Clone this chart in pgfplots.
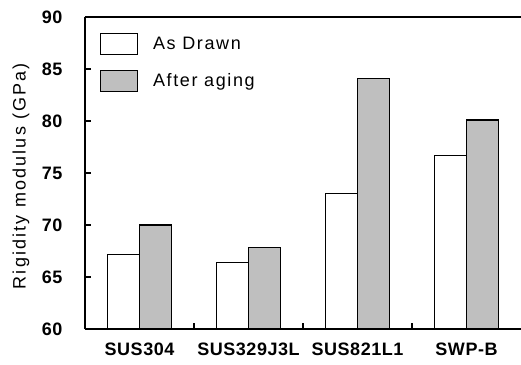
\documentclass[border=0pt]{standalone}
\usepackage{fontspec}
\setmainfont{Liberation Sans}
\newfontfamily\wideR{Liberation Sans}[LetterSpace=9]
\newfontfamily\wideL{Liberation Sans}[LetterSpace=12]
\newfontfamily\wideB{Liberation Sans}[LetterSpace=3]
\usepackage{pgfplots}
\pgfplotsset{compat=1.18}
\definecolor{barg}{RGB}{191,191,191}
\begin{document}
\begin{tikzpicture}
\begin{axis}[
  name=ax, scale only axis, width=436pt, height=312pt,
  xmin=-0.5, xmax=3.5, ymin=60, ymax=90,
  ytick={60,65,...,90},
  axis x line=box, axis y line=left,
  axis line style={-, line width=1.1pt, black},
  tick align=inside, major tick length=6pt,
  tick style={line width=1.1pt, black},
  xtick={0.5,1.5,2.5}, xticklabels={},
  xtick pos=bottom,
  extra x ticks={0,1,2,3},
  extra x tick labels={SUS304,SUS329J3L,SUS821L1,SWP-B},
  extra x tick style={major tick length=0pt},
  xticklabel style={font=\wideB\bfseries\fontsize{18}{21}\selectfont, yshift=-10pt},
  yticklabel style={font=\wideB\bfseries\fontsize{18}{21}\selectfont, xshift=-19pt},
  /pgf/number format/assume math mode=true,
  ylabel={Rigidity modulus (GPa)},
  ylabel style={at={(axis description cs:-0.147,0.49)}, anchor=center, rotate=0, font=\wideL\fontsize{18}{21}\selectfont},
  legend image code/.code={\draw[#1] (0pt,-10.5pt) rectangle (37pt,10.5pt);},
  legend style={at={(0,1)}, anchor=north west, xshift=15pt, yshift=-16pt,
    draw=none, fill=none, inner sep=0pt, outer sep=0pt, row sep=15pt,
    nodes={inner sep=0pt, font=\wideR\fontsize{18}{21}\selectfont},
    /tikz/every odd column/.append style={column sep=15pt}},
  legend cell align=left,
]
\addplot[ybar, bar width=0.29, bar shift=-0.145, fill=white, draw=black, line width=1.1pt]
  coordinates {(0,67.2) (1,66.4) (2,73.0) (3,76.7)};
\addlegendentry{As Drawn}
\addplot[ybar, bar width=0.29, bar shift=0.145, fill=barg, draw=black, line width=1.1pt]
  coordinates {(0,70.0) (1,67.8) (2,84.1) (3,80.1)};
\addlegendentry{After aging}
\end{axis}
\pgfresetboundingbox
\path[use as bounding box] ([xshift=-85pt,yshift=-35pt]ax.south west) rectangle ([yshift=17pt]ax.north east);
\end{tikzpicture}
\end{document}
